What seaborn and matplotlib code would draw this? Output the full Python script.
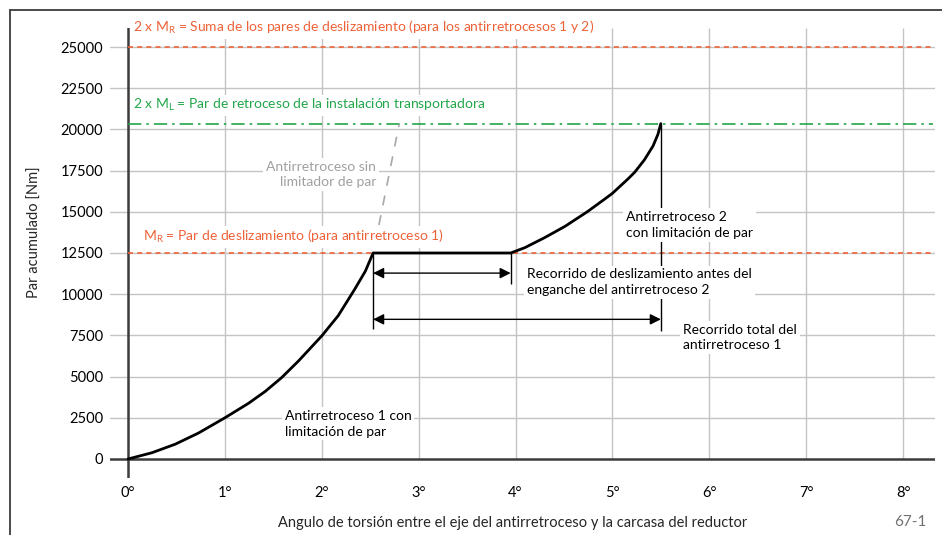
import numpy as np
import pandas as pd
import matplotlib.pyplot as plt
import seaborn as sns
from matplotlib.lines import Line2D

# values
curve1_x = [0, 0.247, 0.488, 0.729, 1.0, 1.244, 1.416, 1.588, 1.76, 2.0, 2.17, 2.34, 2.45, 2.53]
curve1_y = [0, 380, 900, 1580, 2500, 3380, 4100, 4950, 5950, 7470, 8700, 10300, 11400, 12500]
curve2_x = [3.95, 4.096, 4.30, 4.51, 4.74, 4.92, 5.0, 5.16, 5.23, 5.33, 5.42, 5.47, 5.50]
curve2_y = [12500, 12823, 13430, 14115, 15000, 15770, 16120, 16990, 17400, 18150, 19000, 19700, 20350]
nolimit_x = [2.59, 2.80]
nolimit_y = [14200, 20350]

m_r = 12500
two_m_r = 25000
two_m_l = 20350
slip_start, slip_end, total_end = 2.53, 3.95, 5.50

x_ticks = list(range(0, 9))
x_labels = [f"{i}°" for i in x_ticks]
y_ticks = list(range(0, 25001, 2500))

orange = "#EF6238"
green = "#22A64A"
grid_c = "#C4C4C4"
dark = "#3C3C3C"

sns.set_theme(style="white")
plt.rcParams["font.family"] = ["Lato", "DejaVu Sans"]
plt.rcParams["mathtext.default"] = "regular"

fig = plt.figure(figsize=(9.42, 5.35), dpi=100)
ax = fig.add_axes([110 / 942, 57 / 535, 825 / 942, 450 / 535])
ax.set_xlim(-0.186, 8.33)
ax.set_ylim(-1153, 26153)
for s in ax.spines.values():
    s.set_visible(False)

# grid
for y in y_ticks[1:]:
    ax.axhline(y, color=grid_c, lw=1, zorder=0)
ax.vlines(x_ticks[1:], 0, 26153, color=grid_c, lw=1, zorder=0)
ax.axhline(0, color=dark, lw=1.8, zorder=1)
ax.axvline(0, color=dark, lw=1.8, zorder=1)

# reference levels
ax.hlines([two_m_r, m_r], 0, 8.31, color=orange, lw=1.2, linestyle=(0, (3, 2.5)), zorder=2)
ax.hlines(two_m_l, 0, 8.31, color=green, lw=1.2, linestyle=(0, (8, 3, 1.5, 3)), zorder=2)

# main curve
df = pd.DataFrame({"x": curve1_x + curve2_x, "y": curve1_y + curve2_y})
sns.lineplot(data=df, x="x", y="y", sort=False, estimator=None, color="black", lw=2.0, ax=ax, zorder=4)
ax.plot(nolimit_x, nolimit_y, color="#A8A8A8", lw=1.2, linestyle=(0, (6, 6)), zorder=3)

# dimension lines
ax.vlines(slip_start, 7870, m_r, color="black", lw=1, zorder=3)
ax.vlines(slip_end, 10600, m_r, color="black", lw=1, zorder=3)
ax.vlines(total_end, 7750, two_m_l, color="black", lw=1, zorder=3)
arrow = dict(arrowstyle="<|-|>", color="black", lw=1, mutation_scale=16, shrinkA=0, shrinkB=0)
ax.annotate("", xy=(slip_end, 11280), xytext=(slip_start, 11280), arrowprops=arrow, zorder=3)
ax.annotate("", xy=(total_end, 8475), xytext=(slip_start, 8475), arrowprops=arrow, zorder=3)

box = dict(facecolor="white", edgecolor="none", pad=2)
fs = 10
ax.text(0.05, 26160, "2 x M$_{R}$ = Suma de los pares de deslizamiento (para los antirretrocesos 1 y 2)",
        color=orange, fontsize=fs, va="center", bbox=box, zorder=5)
ax.text(0.05, 21460, "2 x M$_{L}$ = Par de retroceso de la instalación transportadora",
        color=green, fontsize=fs, va="center", bbox=box, zorder=5)
ax.text(0.15, 13475, "M$_{R}$ = Par de deslizamiento (para antirretroceso 1)",
        color=orange, fontsize=fs, va="center", bbox=box, zorder=5)
ax.text(2.56, 17250, "Antirretroceso sin\nlimitador de par", color="#A0A0A0", fontsize=fs,
        va="center", ha="right", multialignment="right", linespacing=1.35, bbox=box, zorder=5)
ax.text(5.14, 14200, "Antirretroceso 2\ncon limitación de par", color="black", fontsize=fs,
        va="center", linespacing=1.35, bbox=box, zorder=5)
ax.text(4.12, 10730, "Recorrido de deslizamiento antes del\nenganche del antirretroceso 2", color="black",
        fontsize=fs, va="center", linespacing=1.35, bbox=box, zorder=5)
ax.text(5.73, 7380, "Recorrido total del\nantirretroceso 1", color="black", fontsize=fs,
        va="center", linespacing=1.35, bbox=box, zorder=5)
ax.text(1.62, 2130, "Antirretroceso 1 con\nlimitación de par", color="black", fontsize=fs,
        va="center", linespacing=1.35, bbox=box, zorder=5)

ax.set_xticks(x_ticks)
ax.set_xticklabels(x_labels)
ax.set_yticks(y_ticks)
ax.set_yticklabels([str(v) for v in y_ticks])
ax.tick_params(axis="both", length=0, labelsize=10.5, colors="black")
ax.tick_params(axis="x", pad=6)
ax.tick_params(axis="y", pad=5)
ax.set_xlabel("Angulo de torsión entre el eje del antirretroceso y la carcasa del reductor", fontsize=10.5)
ax.set_ylabel("Par acumulado [Nm]", fontsize=10.5)
ax.xaxis.set_label_coords(403 / 825, -38 / 450)
ax.yaxis.set_label_coords(-68 / 825, 246 / 450)

# outer frame
fig.add_artist(Line2D([10 / 942, 1], [1 - 10 / 535] * 2, color=dark, lw=1.3, transform=fig.transFigure))
fig.add_artist(Line2D([10 / 942] * 2, [0, 1 - 10 / 535], color=dark, lw=1.3, transform=fig.transFigure))
fig.text(910 / 942, 1 - 522 / 535, "67-1", color="#707070", fontsize=11, ha="center", va="center")

fig.savefig("out.png", dpi=100)
